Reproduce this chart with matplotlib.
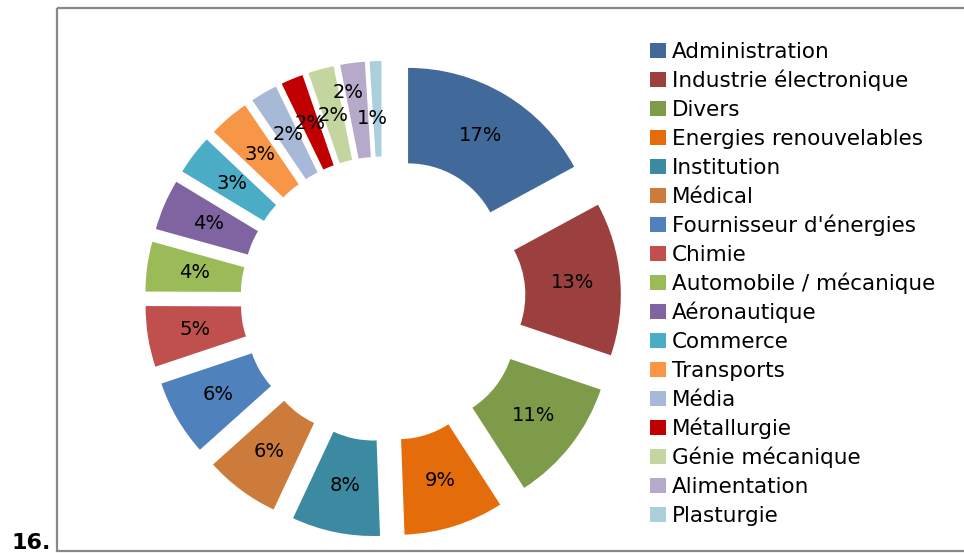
import matplotlib.pyplot as plt
from matplotlib.patches import Rectangle

# share of each sector (%), labels shown rounded
sectors = [
    "Administration", "Industrie électronique", "Divers", "Energies renouvelables",
    "Institution", "Médical", "Fournisseur d'énergies", "Chimie",
    "Automobile / mécanique", "Aéronautique", "Commerce", "Transports",
    "Média", "Métallurgie", "Génie mécanique", "Alimentation", "Plasturgie",
]
shares = [17.1, 13.1, 10.7, 8.55, 7.55, 6.4, 6.5, 5.2,
          4.25, 4.35, 3.4, 3.45, 2.3, 1.9, 2.2, 2.1, 1.0]
colors = [
    "#416A9B", "#9B403E", "#7E9B49", "#E46C0A", "#3C8AA1", "#CD7B3A",
    "#4F81BD", "#C0504D", "#9BBB59", "#8064A2", "#4BACC6", "#F79646",
    "#A8B9D8", "#C00000", "#C4D6A0", "#B6A9C9", "#ABCFDD",
]

W, H = 964, 553
cx, cy = 383, 299          # donut centre in pixels
radius, ring, shift = 189, 95.5, 49

fig = plt.figure(figsize=(W / 100, H / 100), dpi=100)

# overlay in pixel coordinates for frame, legend and caption
over = fig.add_axes([0, 0, 1, 1])
over.set_xlim(0, W)
over.set_ylim(H, 0)
over.axis("off")
over.patch.set_visible(False)

over.add_patch(Rectangle((57, 8), 930, 543, fill=False,
                         edgecolor="#888888", linewidth=1.6))
over.text(11, 553, "16.", fontsize=16, fontweight="bold",
          ha="left", va="bottom", color="black")

row0, pitch = 50, 29.02
for i, (name, col) in enumerate(zip(sectors, colors)):
    yc = row0 + i * pitch
    over.add_patch(Rectangle((650, yc - 7.5), 16, 15, facecolor=col,
                             edgecolor="none"))
    over.text(672, yc + 8, name, fontsize=15.5, ha="left", va="baseline",
              color="black")

# donut axes: data units equal pixels, origin at donut centre
ax = fig.add_axes([0, 0, 1, 1])
ax.patch.set_visible(False)
wedges, texts, pcts = ax.pie(
    shares,
    colors=colors,
    startangle=90,
    counterclock=False,
    radius=radius,
    explode=[shift] * len(shares),
    autopct=lambda p: f"{p:.0f}%",
    pctdistance=(radius - ring / 2) / radius,
    wedgeprops=dict(width=ring, linewidth=0),
    textprops=dict(fontsize=14, color="black"),
)

# the two last labels are nudged like in the original to limit overlap
for idx, (dx, dy) in {15: (-10.5, 17.8), 16: (-4.5, -9.2)}.items():
    x, y = pcts[idx].get_position()
    pcts[idx].set_position((x + dx, y + dy))

ax.set_xlim(-cx, W - cx)
ax.set_ylim(-(H - cy), cy)
ax.set_aspect("equal")
ax.axis("off")

fig.savefig("out.png", dpi=100)
